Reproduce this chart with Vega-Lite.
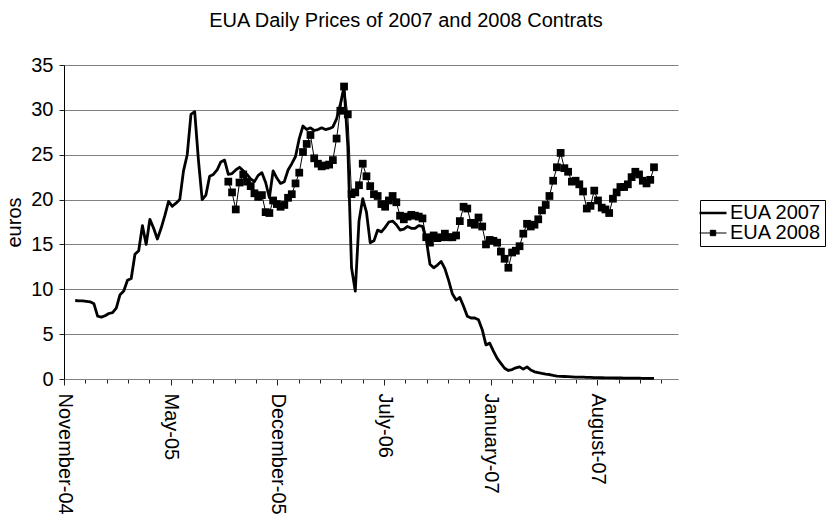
{
  "$schema": "https://vega.github.io/schema/vega-lite/v6.json",
  "width": 614,
  "height": 314,
  "autosize": {"type": "none"},
  "padding": {"left": 64, "top": 65, "right": 157, "bottom": 135},
  "background": "white",
  "config": {"font": "Liberation Sans", "view": {"stroke": null}},
  "title": {"text": "EUA Daily Prices of 2007 and 2008 Contrats", "fontSize": 20, "fontWeight": "normal", "color": "black", "font": "Liberation Sans", "anchor": "middle", "frame": "group", "dx": 35, "offset": 24},
  "data": {"values": [
{"date":"2004-12-01","series":"EUA 2007","price":8.75},
{"date":"2004-12-08","series":"EUA 2007","price":8.7},
{"date":"2004-12-15","series":"EUA 2007","price":8.7},
{"date":"2004-12-22","series":"EUA 2007","price":8.65},
{"date":"2004-12-29","series":"EUA 2007","price":8.6},
{"date":"2005-01-05","series":"EUA 2007","price":8.4},
{"date":"2005-01-12","series":"EUA 2007","price":7.0},
{"date":"2005-01-19","series":"EUA 2007","price":6.9},
{"date":"2005-01-26","series":"EUA 2007","price":7.05},
{"date":"2005-02-02","series":"EUA 2007","price":7.3},
{"date":"2005-02-09","series":"EUA 2007","price":7.4},
{"date":"2005-02-16","series":"EUA 2007","price":7.9},
{"date":"2005-02-23","series":"EUA 2007","price":9.4},
{"date":"2005-03-02","series":"EUA 2007","price":9.8},
{"date":"2005-03-09","series":"EUA 2007","price":11.0},
{"date":"2005-03-16","series":"EUA 2007","price":11.2},
{"date":"2005-03-23","series":"EUA 2007","price":13.9},
{"date":"2005-03-30","series":"EUA 2007","price":14.3},
{"date":"2005-04-06","series":"EUA 2007","price":17.1},
{"date":"2005-04-13","series":"EUA 2007","price":15.0},
{"date":"2005-04-20","series":"EUA 2007","price":17.8},
{"date":"2005-04-27","series":"EUA 2007","price":16.8},
{"date":"2005-05-04","series":"EUA 2007","price":15.6},
{"date":"2005-05-11","series":"EUA 2007","price":16.8},
{"date":"2005-05-18","series":"EUA 2007","price":18.2},
{"date":"2005-05-25","series":"EUA 2007","price":19.8},
{"date":"2005-06-01","series":"EUA 2007","price":19.25},
{"date":"2005-06-08","series":"EUA 2007","price":19.6},
{"date":"2005-06-15","series":"EUA 2007","price":20.0},
{"date":"2005-06-22","series":"EUA 2007","price":23.2},
{"date":"2005-06-29","series":"EUA 2007","price":25.0},
{"date":"2005-07-06","series":"EUA 2007","price":29.5},
{"date":"2005-07-13","series":"EUA 2007","price":29.8},
{"date":"2005-07-20","series":"EUA 2007","price":24.4},
{"date":"2005-07-27","series":"EUA 2007","price":20.0},
{"date":"2005-08-03","series":"EUA 2007","price":20.5},
{"date":"2005-08-10","series":"EUA 2007","price":22.6},
{"date":"2005-08-17","series":"EUA 2007","price":22.8},
{"date":"2005-08-24","series":"EUA 2007","price":23.3},
{"date":"2005-08-31","series":"EUA 2007","price":24.2},
{"date":"2005-09-07","series":"EUA 2007","price":24.4},
{"date":"2005-09-14","series":"EUA 2007","price":22.8},
{"date":"2005-09-21","series":"EUA 2007","price":22.9},
{"date":"2005-09-28","series":"EUA 2007","price":23.3},
{"date":"2005-10-05","series":"EUA 2007","price":23.6},
{"date":"2005-10-12","series":"EUA 2007","price":23.2},
{"date":"2005-10-19","series":"EUA 2007","price":22.8},
{"date":"2005-10-26","series":"EUA 2007","price":22.3},
{"date":"2005-11-02","series":"EUA 2007","price":22.0},
{"date":"2005-11-09","series":"EUA 2007","price":22.7},
{"date":"2005-11-16","series":"EUA 2007","price":23.0},
{"date":"2005-11-23","series":"EUA 2007","price":21.9},
{"date":"2005-11-30","series":"EUA 2007","price":20.2},
{"date":"2005-12-07","series":"EUA 2007","price":23.2},
{"date":"2005-12-14","series":"EUA 2007","price":22.4},
{"date":"2005-12-21","series":"EUA 2007","price":21.8},
{"date":"2005-12-28","series":"EUA 2007","price":22.0},
{"date":"2006-01-04","series":"EUA 2007","price":23.3},
{"date":"2006-01-11","series":"EUA 2007","price":24.0},
{"date":"2006-01-18","series":"EUA 2007","price":24.8},
{"date":"2006-01-25","series":"EUA 2007","price":26.8},
{"date":"2006-02-01","series":"EUA 2007","price":28.2},
{"date":"2006-02-08","series":"EUA 2007","price":27.8},
{"date":"2006-02-15","series":"EUA 2007","price":28.0},
{"date":"2006-02-22","series":"EUA 2007","price":27.7},
{"date":"2006-03-01","series":"EUA 2007","price":27.8},
{"date":"2006-03-08","series":"EUA 2007","price":28.0},
{"date":"2006-03-15","series":"EUA 2007","price":27.8},
{"date":"2006-03-22","series":"EUA 2007","price":27.9},
{"date":"2006-03-29","series":"EUA 2007","price":28.1},
{"date":"2006-04-05","series":"EUA 2007","price":29.0},
{"date":"2006-04-12","series":"EUA 2007","price":30.6},
{"date":"2006-04-19","series":"EUA 2007","price":32.6},
{"date":"2006-04-26","series":"EUA 2007","price":26.0},
{"date":"2006-05-03","series":"EUA 2007","price":12.4},
{"date":"2006-05-10","series":"EUA 2007","price":9.8},
{"date":"2006-05-17","series":"EUA 2007","price":17.6},
{"date":"2006-05-24","series":"EUA 2007","price":20.1},
{"date":"2006-05-31","series":"EUA 2007","price":18.6},
{"date":"2006-06-07","series":"EUA 2007","price":15.2},
{"date":"2006-06-14","series":"EUA 2007","price":15.4},
{"date":"2006-06-21","series":"EUA 2007","price":16.6},
{"date":"2006-06-28","series":"EUA 2007","price":16.4},
{"date":"2006-07-05","series":"EUA 2007","price":16.9},
{"date":"2006-07-12","series":"EUA 2007","price":17.5},
{"date":"2006-07-19","series":"EUA 2007","price":17.6},
{"date":"2006-07-26","series":"EUA 2007","price":17.2},
{"date":"2006-08-02","series":"EUA 2007","price":16.6},
{"date":"2006-08-09","series":"EUA 2007","price":16.7},
{"date":"2006-08-16","series":"EUA 2007","price":17.0},
{"date":"2006-08-23","series":"EUA 2007","price":16.8},
{"date":"2006-08-30","series":"EUA 2007","price":16.8},
{"date":"2006-09-06","series":"EUA 2007","price":17.1},
{"date":"2006-09-13","series":"EUA 2007","price":17.0},
{"date":"2006-09-20","series":"EUA 2007","price":15.6},
{"date":"2006-09-27","series":"EUA 2007","price":12.8},
{"date":"2006-10-04","series":"EUA 2007","price":12.4},
{"date":"2006-10-11","series":"EUA 2007","price":12.7},
{"date":"2006-10-18","series":"EUA 2007","price":13.1},
{"date":"2006-10-25","series":"EUA 2007","price":12.3},
{"date":"2006-11-01","series":"EUA 2007","price":11.0},
{"date":"2006-11-08","series":"EUA 2007","price":9.5},
{"date":"2006-11-15","series":"EUA 2007","price":8.8},
{"date":"2006-11-22","series":"EUA 2007","price":9.1},
{"date":"2006-11-29","series":"EUA 2007","price":8.1},
{"date":"2006-12-06","series":"EUA 2007","price":7.0},
{"date":"2006-12-13","series":"EUA 2007","price":6.8},
{"date":"2006-12-20","series":"EUA 2007","price":6.8},
{"date":"2006-12-27","series":"EUA 2007","price":6.6},
{"date":"2007-01-03","series":"EUA 2007","price":5.5},
{"date":"2007-01-10","series":"EUA 2007","price":3.8},
{"date":"2007-01-17","series":"EUA 2007","price":4.0},
{"date":"2007-01-24","series":"EUA 2007","price":3.1},
{"date":"2007-01-31","series":"EUA 2007","price":2.3},
{"date":"2007-02-07","series":"EUA 2007","price":1.75},
{"date":"2007-02-14","series":"EUA 2007","price":1.2},
{"date":"2007-02-21","series":"EUA 2007","price":0.95},
{"date":"2007-02-28","series":"EUA 2007","price":1.05},
{"date":"2007-03-07","series":"EUA 2007","price":1.25},
{"date":"2007-03-14","series":"EUA 2007","price":1.35},
{"date":"2007-03-21","series":"EUA 2007","price":1.1},
{"date":"2007-03-28","series":"EUA 2007","price":1.35},
{"date":"2007-04-04","series":"EUA 2007","price":1.0},
{"date":"2007-04-11","series":"EUA 2007","price":0.8},
{"date":"2007-04-18","series":"EUA 2007","price":0.7},
{"date":"2007-04-25","series":"EUA 2007","price":0.62},
{"date":"2007-05-02","series":"EUA 2007","price":0.55},
{"date":"2007-05-09","series":"EUA 2007","price":0.5},
{"date":"2007-05-16","series":"EUA 2007","price":0.4},
{"date":"2007-05-23","series":"EUA 2007","price":0.33},
{"date":"2007-05-30","series":"EUA 2007","price":0.3},
{"date":"2007-06-06","series":"EUA 2007","price":0.28},
{"date":"2007-06-13","series":"EUA 2007","price":0.26},
{"date":"2007-06-20","series":"EUA 2007","price":0.24},
{"date":"2007-06-27","series":"EUA 2007","price":0.22},
{"date":"2007-07-04","series":"EUA 2007","price":0.2},
{"date":"2007-07-11","series":"EUA 2007","price":0.2},
{"date":"2007-07-18","series":"EUA 2007","price":0.18},
{"date":"2007-07-25","series":"EUA 2007","price":0.17},
{"date":"2007-08-01","series":"EUA 2007","price":0.15},
{"date":"2007-08-08","series":"EUA 2007","price":0.15},
{"date":"2007-08-15","series":"EUA 2007","price":0.14},
{"date":"2007-08-22","series":"EUA 2007","price":0.13},
{"date":"2007-08-29","series":"EUA 2007","price":0.12},
{"date":"2007-09-05","series":"EUA 2007","price":0.12},
{"date":"2007-09-12","series":"EUA 2007","price":0.11},
{"date":"2007-09-19","series":"EUA 2007","price":0.11},
{"date":"2007-09-26","series":"EUA 2007","price":0.1},
{"date":"2007-10-03","series":"EUA 2007","price":0.1},
{"date":"2007-10-10","series":"EUA 2007","price":0.1},
{"date":"2007-10-17","series":"EUA 2007","price":0.09},
{"date":"2007-10-24","series":"EUA 2007","price":0.09},
{"date":"2007-10-31","series":"EUA 2007","price":0.08},
{"date":"2007-11-07","series":"EUA 2007","price":0.08},
{"date":"2007-11-14","series":"EUA 2007","price":0.08},
{"date":"2007-11-21","series":"EUA 2007","price":0.08},
{"date":"2005-09-14","series":"EUA 2008","price":22.0},
{"date":"2005-09-21","series":"EUA 2008","price":20.8},
{"date":"2005-09-28","series":"EUA 2008","price":18.9},
{"date":"2005-10-05","series":"EUA 2008","price":21.9},
{"date":"2005-10-12","series":"EUA 2008","price":22.8},
{"date":"2005-10-19","series":"EUA 2008","price":22.0},
{"date":"2005-10-26","series":"EUA 2008","price":21.5},
{"date":"2005-11-02","series":"EUA 2008","price":20.7},
{"date":"2005-11-09","series":"EUA 2008","price":20.3},
{"date":"2005-11-16","series":"EUA 2008","price":20.5},
{"date":"2005-11-23","series":"EUA 2008","price":18.6},
{"date":"2005-11-30","series":"EUA 2008","price":18.5},
{"date":"2005-12-07","series":"EUA 2008","price":19.9},
{"date":"2005-12-14","series":"EUA 2008","price":19.5},
{"date":"2005-12-21","series":"EUA 2008","price":19.2},
{"date":"2005-12-28","series":"EUA 2008","price":19.4},
{"date":"2006-01-04","series":"EUA 2008","price":20.2},
{"date":"2006-01-11","series":"EUA 2008","price":20.6},
{"date":"2006-01-18","series":"EUA 2008","price":21.8},
{"date":"2006-01-25","series":"EUA 2008","price":23.0},
{"date":"2006-02-01","series":"EUA 2008","price":25.3},
{"date":"2006-02-08","series":"EUA 2008","price":26.2},
{"date":"2006-02-15","series":"EUA 2008","price":27.2},
{"date":"2006-02-22","series":"EUA 2008","price":24.6},
{"date":"2006-03-01","series":"EUA 2008","price":24.0},
{"date":"2006-03-08","series":"EUA 2008","price":23.7},
{"date":"2006-03-15","series":"EUA 2008","price":23.8},
{"date":"2006-03-22","series":"EUA 2008","price":23.9},
{"date":"2006-03-29","series":"EUA 2008","price":24.4},
{"date":"2006-04-05","series":"EUA 2008","price":26.8},
{"date":"2006-04-12","series":"EUA 2008","price":29.9},
{"date":"2006-04-19","series":"EUA 2008","price":32.6},
{"date":"2006-04-26","series":"EUA 2008","price":29.5},
{"date":"2006-05-03","series":"EUA 2008","price":20.6},
{"date":"2006-05-10","series":"EUA 2008","price":20.8},
{"date":"2006-05-17","series":"EUA 2008","price":21.6},
{"date":"2006-05-24","series":"EUA 2008","price":24.0},
{"date":"2006-05-31","series":"EUA 2008","price":22.6},
{"date":"2006-06-07","series":"EUA 2008","price":21.5},
{"date":"2006-06-14","series":"EUA 2008","price":20.6},
{"date":"2006-06-21","series":"EUA 2008","price":20.4},
{"date":"2006-06-28","series":"EUA 2008","price":19.5},
{"date":"2006-07-05","series":"EUA 2008","price":19.2},
{"date":"2006-07-12","series":"EUA 2008","price":19.9},
{"date":"2006-07-19","series":"EUA 2008","price":20.4},
{"date":"2006-07-26","series":"EUA 2008","price":19.7},
{"date":"2006-08-02","series":"EUA 2008","price":18.2},
{"date":"2006-08-09","series":"EUA 2008","price":17.8},
{"date":"2006-08-16","series":"EUA 2008","price":18.1},
{"date":"2006-08-23","series":"EUA 2008","price":18.3},
{"date":"2006-08-30","series":"EUA 2008","price":18.2},
{"date":"2006-09-06","series":"EUA 2008","price":18.1},
{"date":"2006-09-13","series":"EUA 2008","price":17.9},
{"date":"2006-09-20","series":"EUA 2008","price":15.8},
{"date":"2006-09-27","series":"EUA 2008","price":15.2},
{"date":"2006-10-04","series":"EUA 2008","price":16.0},
{"date":"2006-10-11","series":"EUA 2008","price":15.7},
{"date":"2006-10-18","series":"EUA 2008","price":15.8},
{"date":"2006-10-25","series":"EUA 2008","price":16.2},
{"date":"2006-11-01","series":"EUA 2008","price":15.8},
{"date":"2006-11-08","series":"EUA 2008","price":15.8},
{"date":"2006-11-15","series":"EUA 2008","price":16.0},
{"date":"2006-11-22","series":"EUA 2008","price":17.6},
{"date":"2006-11-29","series":"EUA 2008","price":19.2},
{"date":"2006-12-06","series":"EUA 2008","price":19.0},
{"date":"2006-12-13","series":"EUA 2008","price":17.4},
{"date":"2006-12-20","series":"EUA 2008","price":17.2},
{"date":"2006-12-27","series":"EUA 2008","price":18.0},
{"date":"2007-01-03","series":"EUA 2008","price":17.0},
{"date":"2007-01-10","series":"EUA 2008","price":15.0},
{"date":"2007-01-17","series":"EUA 2008","price":15.5},
{"date":"2007-01-24","series":"EUA 2008","price":15.4},
{"date":"2007-01-31","series":"EUA 2008","price":15.2},
{"date":"2007-02-07","series":"EUA 2008","price":14.2},
{"date":"2007-02-14","series":"EUA 2008","price":13.4},
{"date":"2007-02-21","series":"EUA 2008","price":12.4},
{"date":"2007-02-28","series":"EUA 2008","price":14.1},
{"date":"2007-03-07","series":"EUA 2008","price":14.3},
{"date":"2007-03-14","series":"EUA 2008","price":14.8},
{"date":"2007-03-21","series":"EUA 2008","price":16.2},
{"date":"2007-03-28","series":"EUA 2008","price":17.3},
{"date":"2007-04-04","series":"EUA 2008","price":17.0},
{"date":"2007-04-11","series":"EUA 2008","price":17.2},
{"date":"2007-04-18","series":"EUA 2008","price":17.8},
{"date":"2007-04-25","series":"EUA 2008","price":18.8},
{"date":"2007-05-02","series":"EUA 2008","price":19.4},
{"date":"2007-05-09","series":"EUA 2008","price":20.4},
{"date":"2007-05-16","series":"EUA 2008","price":22.1},
{"date":"2007-05-23","series":"EUA 2008","price":23.6},
{"date":"2007-05-30","series":"EUA 2008","price":25.2},
{"date":"2007-06-06","series":"EUA 2008","price":23.5},
{"date":"2007-06-13","series":"EUA 2008","price":23.1},
{"date":"2007-06-20","series":"EUA 2008","price":22.0},
{"date":"2007-06-27","series":"EUA 2008","price":22.1},
{"date":"2007-07-04","series":"EUA 2008","price":21.7},
{"date":"2007-07-11","series":"EUA 2008","price":20.9},
{"date":"2007-07-18","series":"EUA 2008","price":19.0},
{"date":"2007-07-25","series":"EUA 2008","price":19.3},
{"date":"2007-08-01","series":"EUA 2008","price":21.0},
{"date":"2007-08-08","series":"EUA 2008","price":19.9},
{"date":"2007-08-15","series":"EUA 2008","price":19.1},
{"date":"2007-08-22","series":"EUA 2008","price":18.9},
{"date":"2007-08-29","series":"EUA 2008","price":18.5},
{"date":"2007-09-05","series":"EUA 2008","price":20.1},
{"date":"2007-09-12","series":"EUA 2008","price":20.8},
{"date":"2007-09-19","series":"EUA 2008","price":21.4},
{"date":"2007-09-26","series":"EUA 2008","price":21.4},
{"date":"2007-10-03","series":"EUA 2008","price":21.7},
{"date":"2007-10-10","series":"EUA 2008","price":22.5},
{"date":"2007-10-17","series":"EUA 2008","price":23.1},
{"date":"2007-10-24","series":"EUA 2008","price":22.8},
{"date":"2007-10-31","series":"EUA 2008","price":22.1},
{"date":"2007-11-07","series":"EUA 2008","price":21.8},
{"date":"2007-11-14","series":"EUA 2008","price":22.2},
{"date":"2007-11-21","series":"EUA 2008","price":23.6}
  ]},
  "encoding": {
    "x": {
      "field": "date", "type": "temporal",
      "scale": {"type": "utc", "domain": [1100044800000, 1199491200000]},
      "axis": {
        "title": null,
        "values": [1100044800000,1103500800000,1106956800000,1110412800000,1113868800000,1117324800000,1120780800000,1124236800000,1127692800000,1131148800000,1134604800000,1138060800000,1141516800000,1144972800000,1148428800000,1151884800000,1155340800000,1158796800000,1162252800000,1165708800000,1169164800000,1172620800000,1176076800000,1179532800000,1182988800000,1186444800000,1189900800000,1193356800000,1196812800000],
        "labelExpr": "(round((datum.value - 1100044800000) / 86400000) % 200 == 0) ? utcFormat(datum.value, '%B-%y') : ''",
        "labelAngle": 90,
        "labelAlign": "left",
        "labelBaseline": "middle",
        "labelFontSize": 20,
        "labelFont": "Liberation Sans",
        "labelColor": "black",
        "labelPadding": 8,
        "labelOverlap": false,
        "labelBound": false,
        "labelFlush": false,
        "tickSize": {"condition": {"test": "round((datum.value - 1100044800000) / 86400000) % 200 == 0", "value": 6}, "value": 4},
        "tickColor": "#222",
        "tickWidth": 1,
        "domainColor": "#808080",
        "domainWidth": 1,
        "grid": false
      }
    },
    "y": {
      "field": "price", "type": "quantitative",
      "scale": {"domain": [0, 35], "nice": false, "zero": true},
      "axis": {
        "title": "euros",
        "titleFontSize": 20,
        "titleFont": "Liberation Sans",
        "titleFontWeight": "normal",
        "titleColor": "black",
        "titlePadding": 6,
        "values": [0, 5, 10, 15, 20, 25, 30, 35],
        "labelFontSize": 20,
        "labelFont": "Liberation Sans",
        "labelColor": "black",
        "labelPadding": 6,
        "tickSize": 5,
        "tickColor": "#222",
        "domainColor": "black",
        "grid": true,
        "gridColor": "#808080",
        "gridWidth": 1
      }
    },
    "color": {
      "field": "series", "type": "nominal",
      "scale": {"domain": ["EUA 2007", "EUA 2008"], "range": ["black", "black"]},
      "legend": {
        "title": null,
        "orient": "none",
        "legendX": 636,
        "legendY": 135,
        "padding": 3,
        "strokeColor": "black",
        "fillColor": "white",
        "labelFontSize": 20,
        "labelFont": "Liberation Sans",
        "labelColor": "black",
        "labelOffset": 7,
        "rowPadding": 0,
        "symbolSize": 729,
        "symbolType": "stroke",
        "symbolStrokeColor": "black",
        "symbolStrokeWidth": 2.5,
        "encode": {
          "symbols": {
            "update": {
              "shape": {"signal": "datum.value === 'EUA 2008' ? 'M-1,0H1M-0.2,-0.2H0.2V0.2H-0.2Z' : 'stroke'"},
              "strokeWidth": {"signal": "datum.value === 'EUA 2008' ? 1 : 2.5"},
              "fill": {"value": "black"},
              "stroke": {"value": "black"}
            }
          }
        }
      }
    }
  },
  "layer": [
    {
      "transform": [{"filter": "datum.series === 'EUA 2007'"}],
      "mark": {"type": "line", "strokeWidth": 2.8, "strokeJoin": "round"}
    },
    {
      "transform": [{"filter": "datum.series === 'EUA 2008'"}],
      "mark": {"type": "line", "strokeWidth": 1}
    },
    {
      "transform": [{"filter": "datum.series === 'EUA 2008'"}],
      "mark": {"type": "point", "shape": "square", "filled": true, "size": 60, "opacity": 1}
    }
  ]
}
